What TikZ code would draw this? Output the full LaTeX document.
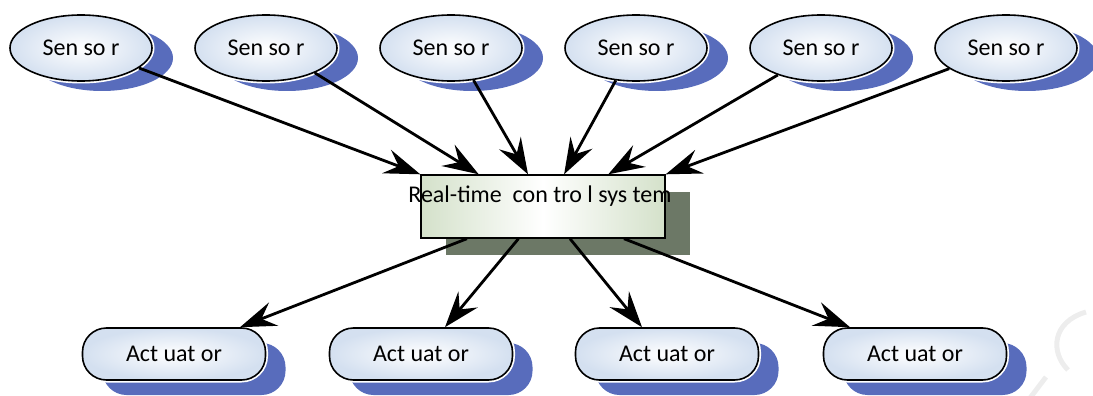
\documentclass[tikz,border=0pt]{standalone}
\usepackage{fontspec}
\setmainfont{Carlito}
\usetikzlibrary{arrows.meta,shadows,calc,shapes.geometric}
\definecolor{shadowblue}{RGB}{88,108,188}
\definecolor{paleblue}{RGB}{212,224,240}
\definecolor{palegreen}{RGB}{212,225,202}
\definecolor{shadowgreen}{RGB}{108,120,102}
\begin{document}
\begin{tikzpicture}[x=1pt,y=-1pt,
  lbl/.style={font=\fontsize{24}{26}\selectfont},
  sensor/.style={ellipse, minimum width=142pt, minimum height=66pt, inner sep=0pt,
    draw=black, line width=1.6pt, inner color=white, outer color=paleblue,
    drop shadow={shadow xshift=21pt, shadow yshift=-10pt, fill=shadowblue, opacity=1},
    preaction={draw=white, line width=5pt}, lbl},
  actuator/.style={rectangle, rounded corners=24pt, minimum width=183pt, minimum height=52pt,
    inner sep=0pt, draw=black, line width=1.6pt, inner color=white, outer color=paleblue,
    drop shadow={shadow xshift=20pt, shadow yshift=-15pt, fill=shadowblue, opacity=1},
    preaction={draw=white, line width=5pt}, lbl},
  ctrlbox/.style={rectangle, minimum width=244pt, minimum height=63pt, inner sep=0pt,
    draw=black, line width=1.4pt, left color=palegreen, right color=palegreen, middle color=white,
    drop shadow={shadow xshift=25pt, shadow yshift=-17pt, fill=shadowgreen, opacity=1}},
  arr/.style={-{Stealth[length=36pt,width=25pt,inset=13pt]}, line width=2.8pt},
  wmark/.style={draw=gray!14, line width=5pt}
]
\useasboundingbox (0,0) rectangle (1093,396);

% watermark fragment
\draw[wmark] (1086,312) .. controls (1052,322) and (1050,352) .. (1068,370);
\draw[wmark] (1030,398) -- (1046,377);

% sensors
\node[sensor] (s1) at (81,48)   {Sen so r};
\node[sensor] (s2) at (266,48)  {Sen so r};
\node[sensor] (s3) at (451,48)  {Sen so r};
\node[sensor] (s4) at (636,48)  {Sen so r};
\node[sensor] (s5) at (821,48)  {Sen so r};
\node[sensor] (s6) at (1006,48) {Sen so r};

% control box
\node[ctrlbox] (box) at (543,206.5) {};
\node[lbl] (boxtext) at (540,196) {Real-time\ \ con tro l sys tem};

% actuators
\node[actuator] (a1) at (174,354) {\raisebox{-5pt}{Act uat or}};
\node[actuator] (a2) at (421,354) {\raisebox{-5pt}{Act uat or}};
\node[actuator] (a3) at (667,354) {\raisebox{-5pt}{Act uat or}};
\node[actuator] (a4) at (915,354) {\raisebox{-5pt}{Act uat or}};

% target points on box
\coordinate (t1) at ($(box.north west)!0.00!(box.north east)$);
\coordinate (t2) at ($(box.north west)!0.238!(box.north east)$);
\coordinate (t3) at ($(box.north west)!0.439!(box.north east)$);
\coordinate (t4) at ($(box.north west)!0.586!(box.north east)$);
\coordinate (t5) at ($(box.north west)!0.766!(box.north east)$);
\coordinate (t6) at ($(box.north west)!1.00!(box.north east)$);

\coordinate (b1) at ($(box.south west)!0.19!(box.south east)$);
\coordinate (b2) at ($(box.south west)!0.40!(box.south east)$);
\coordinate (b3) at ($(box.south west)!0.61!(box.south east)$);
\coordinate (b4) at ($(box.south west)!0.83!(box.south east)$);

\coordinate (e1) at ([xshift=66pt]a1.north);
\coordinate (e2) at ([xshift=24pt]a2.north);
\coordinate (e3) at ([xshift=-25pt]a3.north);
\coordinate (e4) at ([xshift=-65pt]a4.north);

% sensor arrows
\draw[arr] (s1.-19) -- (t1);
\draw[arr] (s2.-27) -- (t2);
\draw[arr] (s3.-55) -- (t3);
\draw[arr] (s4.-122) -- (t4);
\draw[arr] (s5.-148) -- (t5);
\draw[arr] (s6.-160) -- (t6);

% actuator arrows
\draw[arr] (b1) -- (e1);
\draw[arr] (b2) -- (e2);
\draw[arr] (b3) -- (e3);
\draw[arr] (b4) -- (e4);
\end{tikzpicture}
\end{document}
